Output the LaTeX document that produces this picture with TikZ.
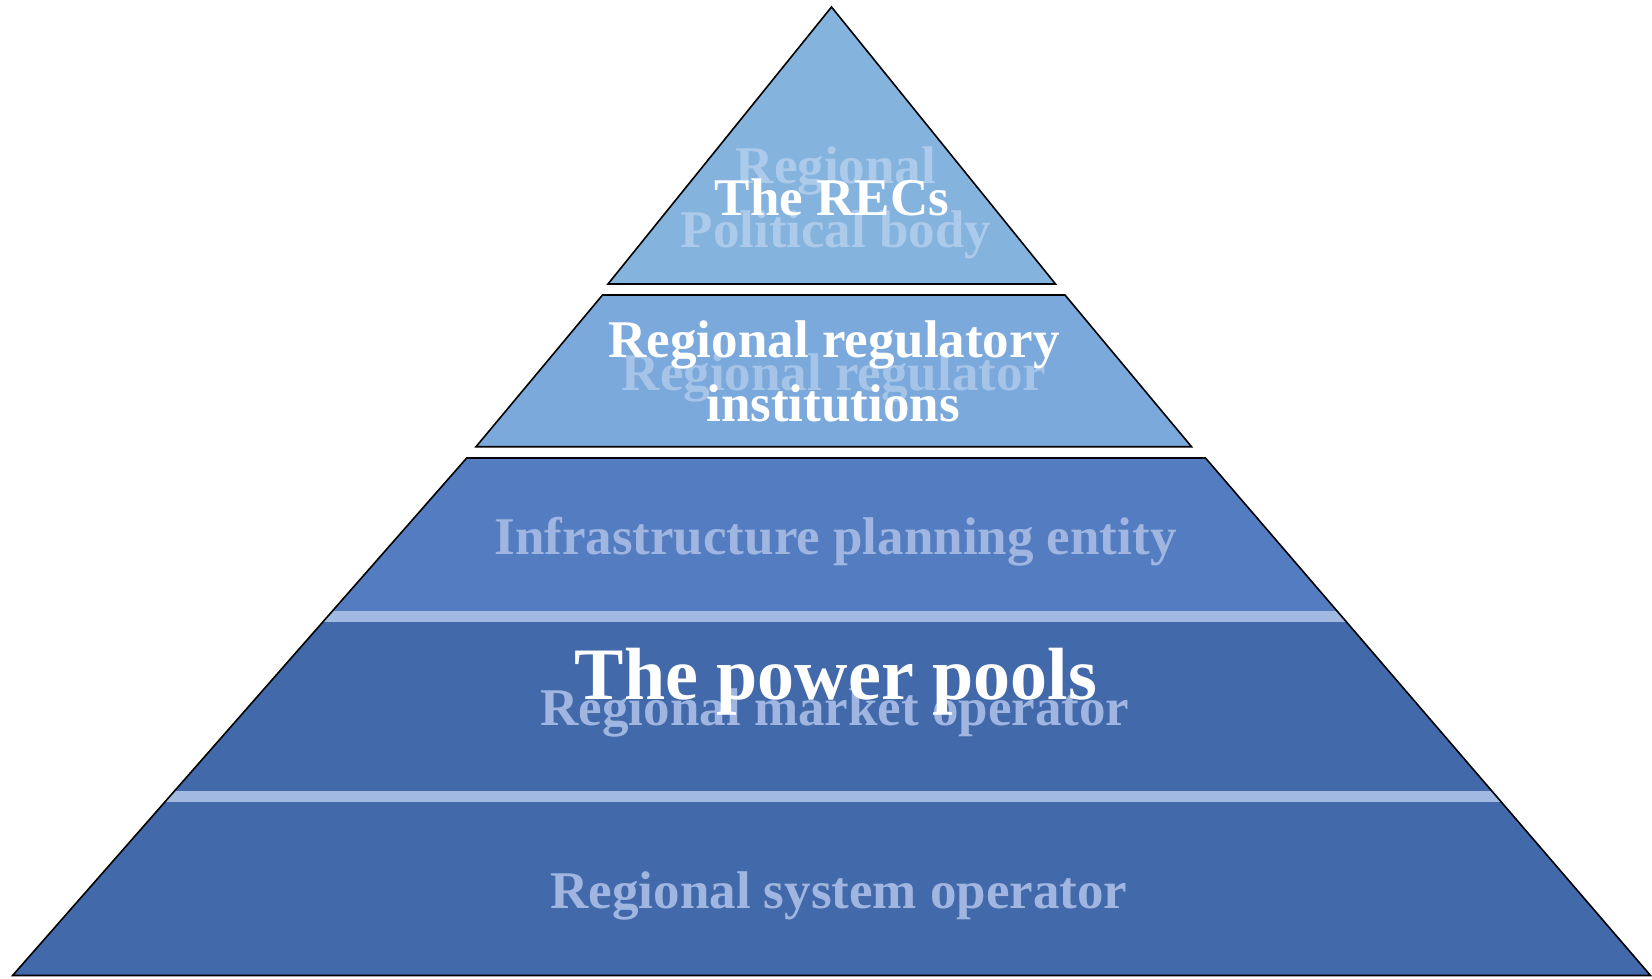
\documentclass[tikz,border=0pt]{standalone}
\usepackage{fontspec}
\setmainfont{Liberation Serif}
\definecolor{topfill}{RGB}{132,179,222}
\definecolor{midfill}{RGB}{123,169,219}
\definecolor{bandA}{RGB}{84,125,193}
\definecolor{bandB}{RGB}{66,105,170}
\definecolor{stripe}{RGB}{162,185,225}
\definecolor{fadeA}{RGB}{172,202,234}
\definecolor{fadeB}{RGB}{165,196,232}
\definecolor{fadeC}{RGB}{160,182,224}
\tikzset{
  outline/.style={draw=black,line width=1.6pt,line join=miter},
  lbl/.style={anchor=base,inner sep=0pt,font=\fontsize{53}{63.6}\selectfont\bfseries,align=center},
  big/.style={anchor=base,inner sep=0pt,font=\fontsize{74}{88}\selectfont\bfseries},
}
\begin{document}
\begin{tikzpicture}[x=1pt,y=-1pt]
\useasboundingbox (0,0) rectangle (1652,979);
% top triangle
\coordinate (tA) at (831.5,7);
\coordinate (tL) at (608,284);
\coordinate (tR) at (1055.5,284);
\fill[topfill] (tA) -- (tR) -- (tL) -- cycle;
% middle trapezoid
\coordinate (mTL) at (602.5,295);
\coordinate (mTR) at (1065,295);
\coordinate (mBR) at (1191.5,446.7);
\coordinate (mBL) at (476,446.7);
\fill[midfill] (mTL) -- (mTR) -- (mBR) -- (mBL) -- cycle;
% bottom trapezoid
\coordinate (bTL) at (466.7,458);
\coordinate (bTR) at (1205.5,458);
\coordinate (bBR) at (1650.5,975.5);
\coordinate (bBL) at (12.6,975.5);
\begin{scope}
  \clip (bTL) -- (bTR) -- (bBR) -- (bBL) -- cycle;
  \fill[bandA] (0,450) rectangle (1652,611);
  \fill[bandB] (0,611) rectangle (1652,979);
  \fill[stripe] (0,610.5) rectangle (1652,621.5);
  \fill[stripe] (0,790.7) rectangle (1652,801.5);
\end{scope}
% faded labels
\node[lbl,text=fadeA] (f1) at (836,183) {Regional};
\node[lbl,text=fadeA] (f2) at (836,247.5) {Political body};
\node[lbl,text=fadeB] (f3) at (834,390.5) {Regional regulator};
\node[lbl,text=fadeC] (f4) at (835.5,554.5) {Infrastructure planning entity};
\node[lbl,text=fadeC] (f5) at (835,725.5) {Regional market operator};
\node[lbl,text=fadeC] (f6) at (839,908.5) {Regional system operator};
% white labels
\node[lbl,text=white] (w1) at (832,215.5) {The RECs};
\node[lbl,text=white] (w2) at (834,357.5) {Regional regulatory};
\node[lbl,text=white] (w3) at (833,421) {institutions};
\node[big,text=white] (w4) at (836,699) {The power pools};
% outlines
\draw[outline] (tA) -- (tR) -- (tL) -- cycle;
\draw[outline] (mTL) -- (mTR) -- (mBR) -- (mBL) -- cycle;
\draw[outline] (bTL) -- (bTR) -- (bBR) -- (bBL) -- cycle;
\end{tikzpicture}
\end{document}
